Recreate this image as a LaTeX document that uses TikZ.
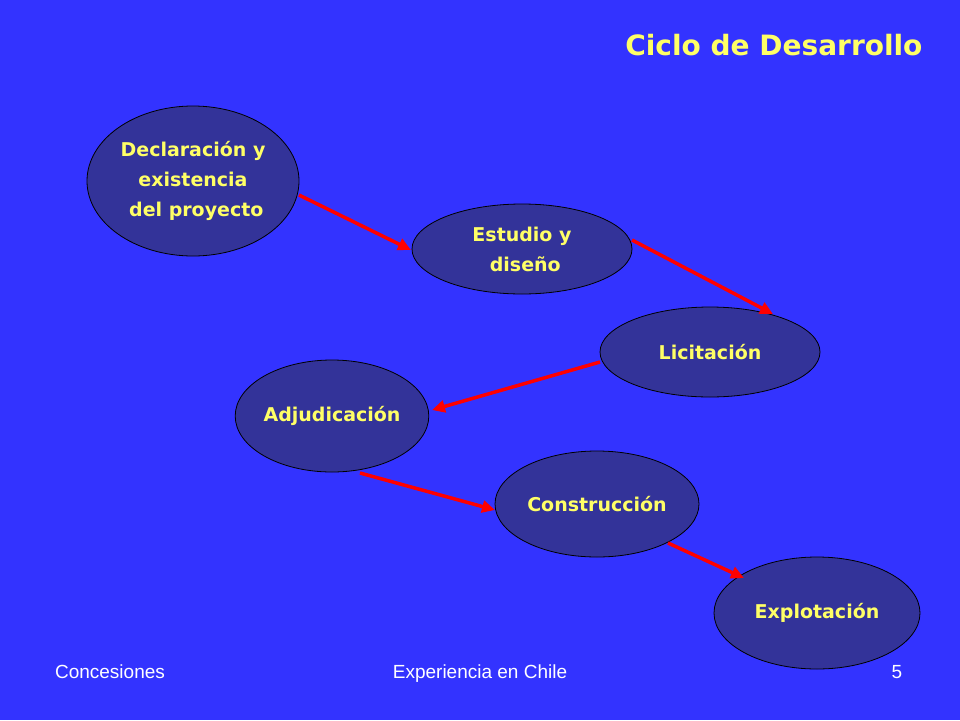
\documentclass[tikz,border=0pt]{standalone}
\usepackage{fontspec}
\setmainfont{Liberation Sans}
\newfontfamily\vfont{DejaVu Sans}
\usetikzlibrary{arrows.meta,shapes.geometric}
\definecolor{bg}{RGB}{51,51,255}
\definecolor{nodefill}{RGB}{51,51,153}
\definecolor{txt}{RGB}{255,255,102}
\definecolor{arr}{RGB}{255,0,0}
\begin{document}
\begin{tikzpicture}[x=1pt,y=-1pt,
  stage/.style={ellipse,draw=black,line width=0.8pt,fill=nodefill,text=txt,font=\vfont\bfseries\fontsize{19}{30}\selectfont,align=center,inner sep=0pt},
  flow/.style={draw=arr,line width=3.5pt,-{Triangle[length=13pt,width=12pt]}},
  foot/.style={text=white,font=\fontsize{19}{22}\selectfont,anchor=base}]
\fill[bg] (0,0) rectangle (960,720);
\useasboundingbox (0,0) rectangle (960,720);
\node[text=txt,font=\vfont\bfseries\fontsize{28}{32}\selectfont,anchor=east] (title) at (926,45) {Ciclo de Desarrollo};
\node[stage,minimum width=212pt,minimum height=150pt] (a) at (193,181) {Declaración y\\existencia\\ \ del proyecto};
\node[stage,minimum width=220pt,minimum height=90pt] (b) at (522,249) {Estudio y\\ \ diseño};
\node[stage,minimum width=220pt,minimum height=90pt] (c) at (710,352) {Licitación};
\node[stage,minimum width=188pt,minimum height=112pt] (d) at (332,416) {Adjudicación};
\node[stage,minimum width=204pt,minimum height=106pt] (e) at (597,504) {Construcción};
\node[stage,minimum width=206pt,minimum height=112pt] (f) at (817,613) {Explotación};
\coordinate (a1) at (299,195); \coordinate (b0) at (411,250);
\coordinate (b1) at (632,240); \coordinate (c0) at (773,314);
\coordinate (c1) at (600,362); \coordinate (d0) at (432,410);
\coordinate (d1) at (360,473); \coordinate (e0) at (495,510);
\coordinate (e1) at (668,543); \coordinate (f0) at (744,578);
\draw[flow] (a1) -- (b0);
\draw[flow] (b1) -- (c0);
\draw[flow] (c1) -- (d0);
\draw[flow] (d1) -- (e0);
\draw[flow] (e1) -- (f0);
\node[foot] (f1) at (110,678) {Concesiones};
\node[foot] (f2) at (480,678) {Experiencia en Chile};
\node[foot] (f3) at (897,678) {5};
\end{tikzpicture}
\end{document}
